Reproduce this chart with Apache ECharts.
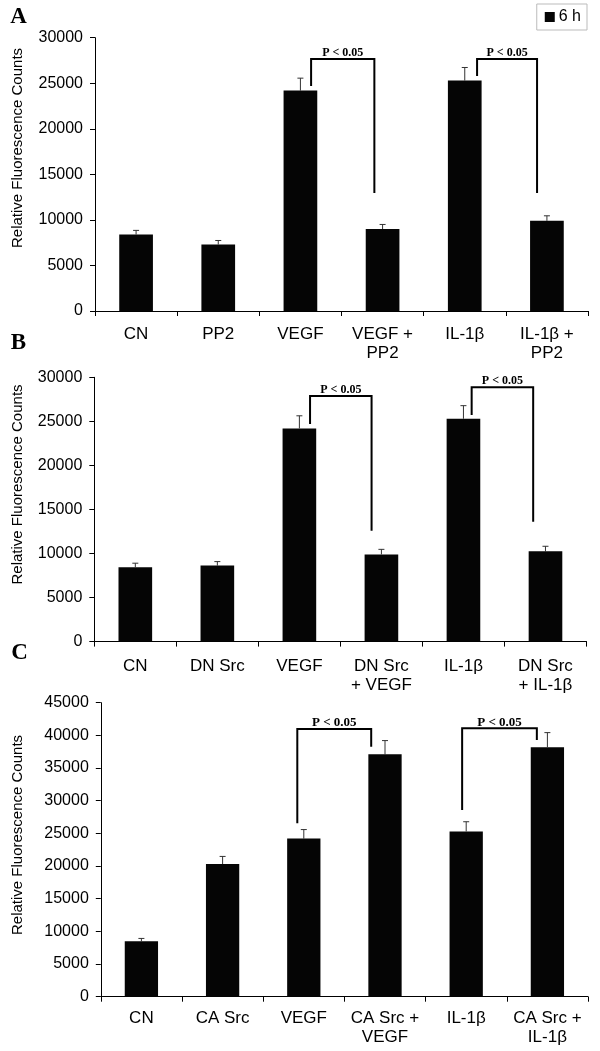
<!DOCTYPE html>
<html>
<head>
<meta charset="utf-8">
<style>
html,body{margin:0;padding:0;background:#fff;}
#chart{width:600px;height:1051px;}
</style>
<script src="https://cdn.jsdelivr.net/npm/echarts@6/dist/echarts.min.js"></script>
</head>
<body>
<div id="chart"></div>
<script>
// ---------- DATA ----------
var catsA = ['CN', 'PP2', 'VEGF', 'VEGF +\nPP2', 'IL-1β', 'IL-1β +\nPP2'];
var valsA = [8400, 7300, 24200, 9000, 25300, 9900];
var errsA = [450, 440, 1360, 500, 1430, 550];
// bracket: [fromCat, toCat, fromEndY, topY, toEndY]
var bracketsA = [[2, 3, 24700, 27660, 12950], [4, 5, 25800, 27660, 12950]];

var catsB = ['CN', 'DN Src', 'VEGF', 'DN Src\n+ VEGF', 'IL-1β', 'DN Src\n+ IL-1β'];
var valsB = [8450, 8630, 24200, 9900, 25300, 10250];
var errsB = [450, 450, 1430, 570, 1480, 570];
var bracketsB = [[2, 3, 24710, 27890, 12570], [4, 5, 25730, 28870, 13590]];

var catsC = ['CN', 'CA Src', 'VEGF', 'CA Src +\nVEGF', 'IL-1β', 'CA Src +\nIL-1β'];
var valsC = [8500, 20300, 24200, 37100, 25300, 38200];
var errsC = [420, 1170, 1380, 2100, 1480, 2220];
var bracketsC = [[2, 3, 26540, 40980, 38270], [4, 5, 28580, 41080, 39290]];

var yTicksAB = {min: 0, max: 30000, interval: 5000};
var yTicksC = {min: 0, max: 45000, interval: 5000};
var sigText = 'P < 0.05';
var seriesName = '6 h';
var yTitle = 'Relative Fluorescence Counts';
var panelLetters = ['A', 'B', 'C'];

// ---------- STYLE / LAYOUT ----------
var FONT = '"Liberation Sans", Arial, sans-serif';
var SERIF = '"Liberation Serif", "Times New Roman", serif';
var panels = [
  {cats: catsA, vals: valsA, errs: errsA, br: bracketsA, y: yTicksAB,
   grid: {left: 95, right: 12, top: 37.7, height: 273.3}, labelMargin: 14,
   brOff: [[0.13, -0.10], [0.15, -0.12]], pSize: 12,
   letter: {x: 18.5, y: 17.5}, title: {x: 18, y: 148}},
  {cats: catsB, vals: valsB, errs: errsB, br: bracketsB, y: yTicksAB,
   grid: {left: 94.3, right: 13.5, top: 377.3, height: 264.3}, labelMargin: 15,
   brOff: [[0.13, -0.12], [0.10, -0.15]], pSize: 12,
   letter: {x: 18.5, y: 343}, title: {x: 18, y: 484.5}},
  {cats: catsC, vals: valsC, errs: errsC, br: bracketsC, y: yTicksC,
   grid: {left: 100.8, right: 12, top: 702.7, height: 294}, labelMargin: 12,
   brOff: [[-0.08, -0.17], [-0.05, -0.13]], pSize: 13,
   letter: {x: 19.5, y: 653.5}, title: {x: 18, y: 835}}
];

var grids = [], xAxes = [], yAxes = [], series = [], graphics = [];

panels.forEach(function (p, i) {
  grids.push(p.grid);
  xAxes.push({
    type: 'category', gridIndex: i, data: p.cats, boundaryGap: true,
    axisLine: {lineStyle: {color: '#000', width: 1}},
    axisTick: {show: true, alignWithLabel: false, interval: 0, length: 5, lineStyle: {color: '#000'}},
    axisLabel: {interval: 0, color: '#000', fontFamily: FONT, fontSize: 17, lineHeight: 19, margin: p.labelMargin},
    splitLine: {show: false}
  });
  yAxes.push({
    type: 'value', gridIndex: i, min: p.y.min, max: p.y.max, interval: p.y.interval,
    axisLine: {show: true, lineStyle: {color: '#000', width: 1}},
    axisTick: {show: true, length: 5, lineStyle: {color: '#000'}},
    axisLabel: {color: '#000', fontFamily: FONT, fontSize: 16, margin: 12,
                formatter: function (v) { return String(v); }},
    splitLine: {show: false}
  });
  series.push({
    name: seriesName, type: 'bar', xAxisIndex: i, yAxisIndex: i,
    data: p.vals, barWidth: '41%',
    itemStyle: {color: '#050505'}, silent: true
  });
  // error bars (upper only)
  series.push({
    name: 'err' + i, type: 'custom', xAxisIndex: i, yAxisIndex: i, silent: true,
    data: p.vals.map(function (v, k) { return [k, v, p.errs[k]]; }),
    encode: {x: 0, y: 1},
    renderItem: function (params, api) {
      var base = api.coord([api.value(0), api.value(1)]);
      var top = api.coord([api.value(0), api.value(1) + api.value(2)]);
      var cap = 3;
      return {type: 'group', children: [
        {type: 'line', shape: {x1: base[0], y1: base[1], x2: top[0], y2: top[1]},
         style: {stroke: '#333', lineWidth: 1}},
        {type: 'line', shape: {x1: top[0] - cap, y1: top[1], x2: top[0] + cap, y2: top[1]},
         style: {stroke: '#333', lineWidth: 1}}
      ]};
    }
  });
  // significance brackets
  series.push({
    name: 'sig' + i, type: 'custom', xAxisIndex: i, yAxisIndex: i, silent: true, clip: false,
    data: p.br.map(function (b, k) { return [b[0], b[3], b[1], b[2], b[4], k]; }),
    encode: {x: 0, y: 1},
    renderItem: function (params, api) {
      var from = api.value(0), top = api.value(1), to = api.value(2);
      var fromEnd = api.value(3), toEnd = api.value(4), k = api.value(5);
      var bw = api.size([1, 0])[0];
      var off = p.brOff[k];
      var pL = api.coord([from, fromEnd]), pT = api.coord([from, top]);
      var pR = api.coord([to, toEnd]);
      var xL = pL[0] + off[0] * bw, xR = pR[0] + off[1] * bw;
      return {type: 'group', children: [
        {type: 'polyline', shape: {points: [[xL, pL[1]], [xL, pT[1]], [xR, pT[1]], [xR, pR[1]]]},
         style: {stroke: '#000', lineWidth: 2, fill: null}},
        {type: 'text', x: (xL + xR) / 2, y: pT[1] - 6,
         style: {text: sigText, fill: '#000', font: 'bold ' + p.pSize + 'px ' + SERIF,
                 textAlign: 'center', textVerticalAlign: 'middle'}}
      ]};
    }
  });
  graphics.push({
    type: 'text', x: p.letter.x, y: p.letter.y,
    style: {text: panelLetters[i], fill: '#000', font: 'bold 23px ' + SERIF,
            textAlign: 'center', textVerticalAlign: 'middle'}
  });
  graphics.push({
    type: 'text', x: p.title.x, y: p.title.y, rotation: Math.PI / 2,
    style: {text: yTitle, fill: '#000', font: '15px ' + FONT,
            textAlign: 'center', textVerticalAlign: 'middle'}
  });
});

var chart = echarts.init(document.getElementById('chart'), null, {renderer: 'canvas'});
chart.setOption({
  animation: false,
  backgroundColor: '#fff',
  grid: grids,
  xAxis: xAxes,
  yAxis: yAxes,
  series: series,
  graphic: graphics,
  legend: {
    data: [{name: seriesName, icon: 'rect'}],
    right: 13, top: 4, padding: [5, 6, 5, 8],
    itemWidth: 10, itemHeight: 10, itemGap: 4,
    borderColor: '#bbb', borderWidth: 1,
    selectedMode: false,
    textStyle: {color: '#000', fontFamily: FONT, fontSize: 16, padding: [0, 0, 0, -1]}
  }
});
</script>
</body>
</html>
